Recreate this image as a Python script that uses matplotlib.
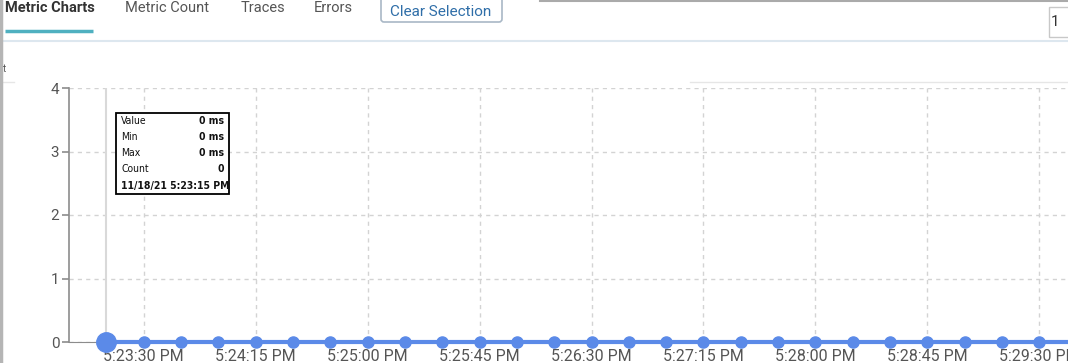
import matplotlib as mpl
mpl.use("agg")
import matplotlib.pyplot as plt
import matplotlib.dates as mdates
from matplotlib.patches import Rectangle, FancyBboxPatch
import pandas as pd

W, H = 1068, 363
blue = "#5b8ae8"
grid_c = "#d3d3d3"
axis_c = "#8c8c8c"
tick_c = "#555555"

plt.rcParams["font.family"] = ["Roboto", "DejaVu Sans"]

# data: one sample every 15 s, all zero
times = pd.to_datetime([
    "2021-11-18 17:23:15", "2021-11-18 17:23:30", "2021-11-18 17:23:45",
    "2021-11-18 17:24:00", "2021-11-18 17:24:15", "2021-11-18 17:24:30",
    "2021-11-18 17:24:45", "2021-11-18 17:25:00", "2021-11-18 17:25:15",
    "2021-11-18 17:25:30", "2021-11-18 17:25:45", "2021-11-18 17:26:00",
    "2021-11-18 17:26:15", "2021-11-18 17:26:30", "2021-11-18 17:26:45",
    "2021-11-18 17:27:00", "2021-11-18 17:27:15", "2021-11-18 17:27:30",
    "2021-11-18 17:27:45", "2021-11-18 17:28:00", "2021-11-18 17:28:15",
    "2021-11-18 17:28:30", "2021-11-18 17:28:45", "2021-11-18 17:29:00",
    "2021-11-18 17:29:15", "2021-11-18 17:29:30", "2021-11-18 17:29:45",
])
values = [0, 0, 0, 0, 0, 0, 0, 0, 0, 0, 0, 0, 0, 0, 0, 0, 0, 0, 0, 0, 0, 0, 0, 0, 0, 0, 0]
tick_times = pd.to_datetime([
    "2021-11-18 17:23:30", "2021-11-18 17:24:15", "2021-11-18 17:25:00",
    "2021-11-18 17:25:45", "2021-11-18 17:26:30", "2021-11-18 17:27:15",
    "2021-11-18 17:28:00", "2021-11-18 17:28:45", "2021-11-18 17:29:30",
])
y_ticks = [0, 1, 2, 3, 4]
tab_labels = ["Metric Charts", "Metric Count", "Traces", "Errors"]
tip_rows = [("Value", "0 ms"), ("Min", "0 ms"), ("Max", "0 ms"), ("Count", "0")]
tip_date = "11/18/21 5:23:15 PM"

fig = plt.figure(figsize=(W / 100, H / 100), dpi=100)
fig.patch.set_facecolor("white")

# main chart
ax = fig.add_axes([69 / W, 21 / H, 999 / W, 254 / H])
ax.set_facecolor("none")
ax.set_xlim(pd.Timestamp("2021-11-18 17:23:00"), pd.Timestamp("2021-11-18 17:29:41.5"))
ax.set_ylim(0, 4)
for s in ["top", "right"]:
    ax.spines[s].set_visible(False)
ax.spines["left"].set_color(axis_c)
ax.spines["bottom"].set_color(axis_c)
ax.spines["left"].set_linewidth(1.2)

ax.set_yticks(y_ticks)
ax.set_xticks(tick_times)
ax.xaxis.set_major_formatter(plt.FuncFormatter(
    lambda x, _: mdates.num2date(x).strftime("%-I:%M:%S %p")))
ax.tick_params(axis="x", length=0, pad=5, labelsize=11.5, labelcolor=tick_c)
ax.tick_params(axis="y", length=5, width=1.2, color=axis_c, pad=2,
               labelsize=11, labelcolor=tick_c)
ax.grid(True, color=grid_c, linestyle=(0, (3, 3)), linewidth=1)
ax.set_axisbelow(True)

# hover cursor line
ax.axvline(times[0], color="#d9d9d9", linewidth=1.5, zorder=1)

ax.plot(times, values, color=blue, linewidth=3, marker="o", markersize=8,
        clip_on=False, zorder=3)
ax.plot(times[:1], values[:1], color=blue, marker="o", markersize=14,
        linestyle="none", clip_on=False, zorder=4)

# overlay in pixel coordinates for the page chrome
ui = fig.add_axes([0, 0, 1, 1], zorder=5)
ui.set_xlim(0, W)
ui.set_ylim(H, 0)
ui.axis("off")
ui.patch.set_alpha(0)

# tooltip
ui.add_patch(Rectangle((116, 113), 113, 81, facecolor="white", edgecolor="black", linewidth=1.3))
tip_font = dict(family="DejaVu Sans", fontstretch="condensed", fontsize=7.5, color="#111")
for i, (k, v) in enumerate(tip_rows):
    yy = 121.5 + i * 16
    ui.text(121, yy, k, va="center", ha="left", **tip_font)
    ui.text(224, yy, v, va="center", ha="right", fontweight="bold", **tip_font)
ui.text(121, 185.5, tip_date, va="center", ha="left", fontweight="bold", **tip_font)

# tabs
tab_x = [5, 125, 241, 314]
for i, (lab, x) in enumerate(zip(tab_labels, tab_x)):
    ui.text(x, 12, lab, fontsize=10.5, va="baseline", ha="left",
            color="#333" if i == 0 else "#555",
            fontweight="bold" if i == 0 else "normal")
ui.plot([5, 93], [31, 31], color="#4fb0c0", linewidth=2.5, solid_capstyle="butt")

# clear selection button
ui.add_patch(FancyBboxPatch((381, -8), 121, 30, boxstyle="round,pad=0,rounding_size=3",
                            facecolor="white", edgecolor="#a9b8c6", linewidth=1.2))
ui.text(441, 16, "Clear Selection", fontsize=11, va="baseline", ha="center", color="#2f6ea8")

# right box
ui.add_patch(Rectangle((1049, 7), 30, 30, facecolor="white", edgecolor="#c8c8c8", linewidth=1))
ui.text(1051, 26, "1", fontsize=11, va="baseline", ha="left", color="#333")

# separators and borders
ui.plot([0, W], [41, 41], color="#dde7ef", linewidth=1.5)
ui.plot([0, 14], [82, 82], color="#e6e6e6", linewidth=1)
ui.plot([690, W], [82, 82], color="#e6e6e6", linewidth=1)
ui.plot([540, W], [0.5, 0.5], color="#aaaaaa", linewidth=1.5)
ui.plot([1, 1], [0, H], color="#b5b5b5", linewidth=2.5)
ui.text(3, 72, "t", fontsize=7, va="baseline", ha="left", color="#555")

fig.savefig("out.png", dpi=100)
